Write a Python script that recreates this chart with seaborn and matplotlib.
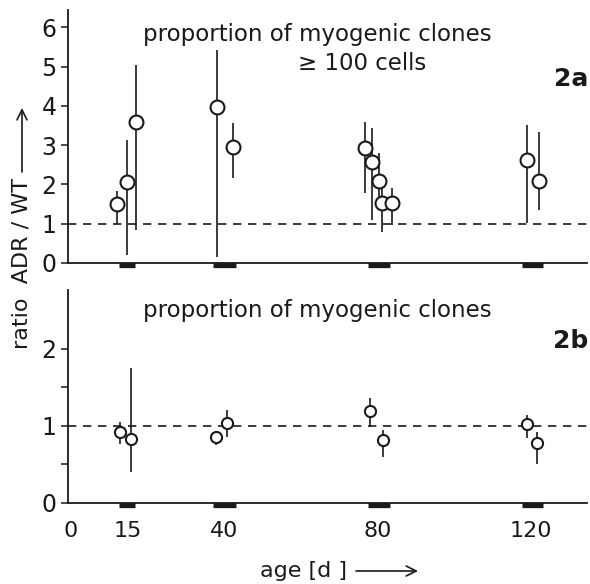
"""Ratio ADR/WT of myogenic clone proportions vs age (Fig. 2a/2b)."""
import matplotlib as mpl
import matplotlib.pyplot as plt
import matplotlib.transforms as mtransforms
import numpy as np
import pandas as pd
import seaborn as sns

# panel 2a: proportion of myogenic clones >= 100 cells
AGE_A = [12.2, 14.8, 17.1, 38.2, 42.5, 76.8, 78.6, 80.3, 81.3, 83.8, 118.9, 122.2]
RATIO_A = [1.50, 2.07, 3.58, 3.98, 2.96, 2.92, 2.58, 2.09, 1.53, 1.53, 2.62, 2.09]
LOW_A = [1.00, 0.20, 0.84, 0.16, 2.16, 1.77, 1.09, 1.69, 0.80, 0.97, 1.01, 1.35]
HIGH_A = [1.82, 3.13, 5.04, 5.42, 3.55, 3.60, 3.43, 2.79, 1.94, 1.90, 3.51, 3.34]

# panel 2b: proportion of myogenic clones
AGE_B = [13.0, 15.9, 38.0, 40.9, 78.1, 81.4, 118.9, 121.5]
RATIO_B = [0.92, 0.83, 0.85, 1.04, 1.19, 0.82, 1.02, 0.78]
LOW_B = [0.77, 0.40, 0.75, 0.86, 0.99, 0.60, 0.84, 0.51]
HIGH_B = [1.05, 1.75, 0.92, 1.20, 1.36, 0.94, 1.14, 0.92]

# sampling periods marked on the age axis
PERIOD_START = [12.6, 37.2, 77.6, 117.7]
PERIOD_END = [17.0, 43.2, 83.3, 123.2]
AGE_TICKS = [0, 15, 40, 80, 120]

sns.set_theme(style="ticks")
mpl.rcParams["font.family"] = ["DejaVu Sans"]
for key in ["text.color", "axes.edgecolor", "axes.labelcolor",
            "xtick.color", "ytick.color"]:
    mpl.rcParams[key] = "k"
mpl.rcParams["axes.linewidth"] = 1.3
mpl.rcParams["ytick.major.width"] = 1.1
mpl.rcParams["ytick.minor.width"] = 1.1

fig = plt.figure(figsize=(5.9, 5.84), dpi=100)
ax_a = fig.add_axes([0.115, 0.5497, 0.88, 0.4333])
ax_b = fig.add_axes([0.115, 0.139, 0.88, 0.364])


def draw_panel(ax, age, ratio, low, high, msize, ymax):
    df = pd.DataFrame({"age": age, "ratio": ratio, "low": low, "high": high})
    ax.vlines(df["age"], df["low"], df["high"], color="k", lw=1.2, zorder=2)
    sns.scatterplot(data=df, x="age", y="ratio", ax=ax, s=msize ** 2,
                    facecolor="white", edgecolor="k", linewidth=1.5, zorder=3)
    ax.axhline(1, color="k", lw=1.2, ls=(0, (5, 4)), zorder=1)
    # black bars under the axis for the sampling periods
    trans = mtransforms.offset_copy(ax.get_xaxis_transform(), fig=fig,
                                    y=-2.5, units="dots")
    ax.hlines([0] * len(PERIOD_START), PERIOD_START, PERIOD_END,
              color="k", lw=3.8, transform=trans, clip_on=False)
    ax.set_xlim(-0.6, 134.6)
    ax.set_ylim(0, ymax)
    ax.set_xlabel("")
    ax.set_ylabel("")
    sns.despine(ax=ax)
    ax.tick_params(axis="x", length=0, labelsize=16, pad=13)
    ax.tick_params(axis="y", which="both", direction="out", length=5,
                   labelsize=17, pad=3)


draw_panel(ax_a, AGE_A, RATIO_A, LOW_A, HIGH_A, 10, 6.44)
ax_a.set_yticks(np.arange(0, 7))
ax_a.set_xticks([])

draw_panel(ax_b, AGE_B, RATIO_B, LOW_B, HIGH_B, 8, 2.76)
ax_b.set_yticks([0, 1, 2])
ax_b.set_yticks([0.5, 1.5], minor=True)
ax_b.set_xticks(AGE_TICKS)

fig.text(317 / 590, 1 - 34 / 584, "proportion of myogenic clones",
         ha="center", va="center", fontsize=16.5)
fig.text(298 / 590, 1 - 64 / 584, "\u2265 100 cells",
         ha="left", va="center", fontsize=16.5)
fig.text(0.997, 1 - 79 / 584, "2a", ha="right", va="center",
         fontsize=18, fontweight="bold")
fig.text(317 / 590, 1 - 310 / 584, "proportion of myogenic clones",
         ha="center", va="center", fontsize=16.5)
fig.text(0.997, 1 - 341 / 584, "2b", ha="right", va="center",
         fontsize=18, fontweight="bold")

# axis titles with long arrows
arrow = dict(arrowstyle="->", color="k", lw=1.2, mutation_scale=18,
             shrinkA=0, shrinkB=0)
fig.text(22 / 590, 1 - 263 / 584, "ratio  ADR / WT", rotation=90,
         ha="center", va="center", fontsize=16)
fig.add_artist(mpl.patches.FancyArrowPatch(
    (22 / 590, 1 - 172 / 584), (22 / 590, 1 - 108 / 584),
    transform=fig.transFigure, **arrow))
fig.text(303 / 590, 1 - 571 / 584, "age [d ]", ha="center", va="center",
         fontsize=16)
fig.add_artist(mpl.patches.FancyArrowPatch(
    (356 / 590, 1 - 571 / 584), (418 / 590, 1 - 571 / 584),
    transform=fig.transFigure, **arrow))

fig.savefig("out.png", dpi=100)
